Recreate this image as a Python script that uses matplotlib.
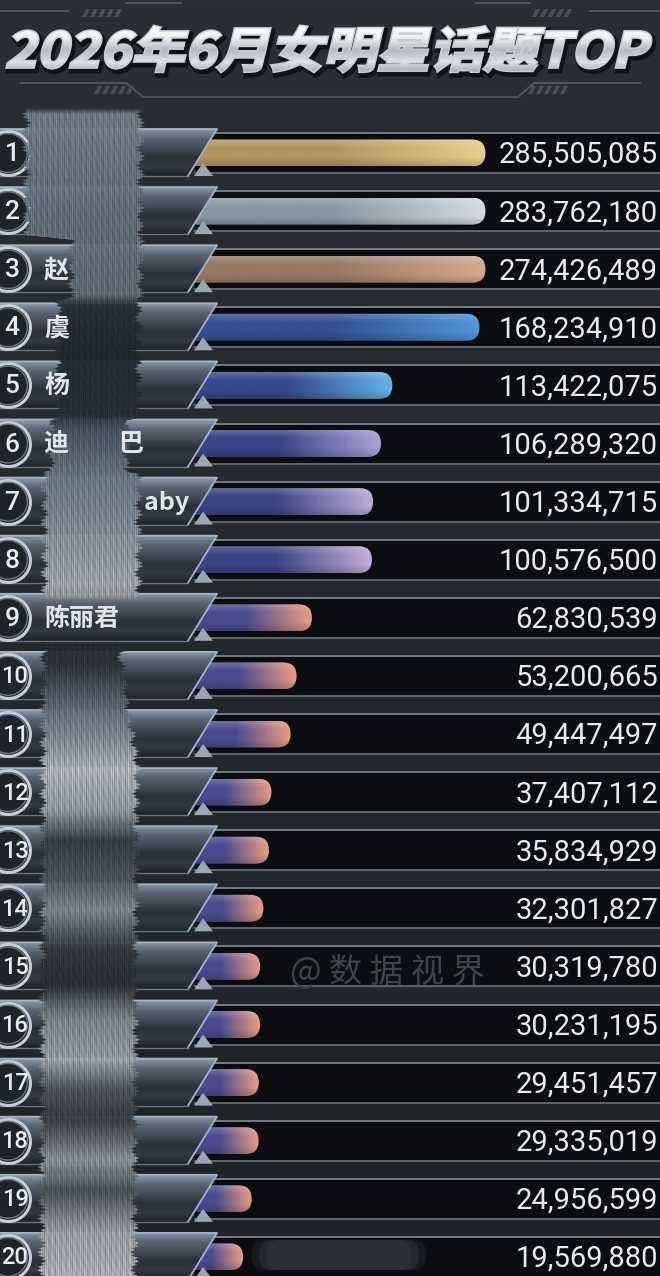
import numpy as np
import matplotlib
matplotlib.use('Agg')
import matplotlib.pyplot as plt
from matplotlib.patches import Polygon, FancyBboxPatch, PathPatch, Rectangle
from matplotlib.textpath import TextPath
from matplotlib.font_manager import FontProperties
from matplotlib.transforms import Affine2D, blended_transform_factory
from matplotlib.colors import LinearSegmentedColormap, to_rgb

plt.rcParams['font.family'] = ['Noto Sans CJK SC', 'DejaVu Sans']

# ---- 数据 ----
title = '2026年6月女明星话题TOP'
watermark = '@ 数 据 视 界'
ranks = list(range(1, 21))
# 图中可见的名字片段 (其余被涂抹)
names = ['', '', '赵', '虞', '杨', '迪\u3000\u3000巴', '\u3000\u3000\u3000\u3000aby', '',
         '陈丽君', '', '', '', '', '', '', '', '', '', '', '']
values = [285505085, 283762180, 274426489, 168234910, 113422075, 106289320,
          101334715, 100576500, 62830539, 53200665, 49447497, 37407112,
          35834929, 32301827, 30319780, 30231195, 29451457, 29335019,
          24956599, 19569880]

# 条形渐变色 (左, 右)
bar_colors = [('#b39660', '#e9cd8e'), ('#8797a3', '#d3dbdf'), ('#987862', '#d6aa8c'),
              ('#33508f', '#4f97da'), ('#34488a', '#62b4e8'), ('#3a4686', '#aaa2d6'),
              ('#3a4482', '#bcaedd'), ('#3a4482', '#c6aed6')] + [('#4a4b8e', '#eb9c82')] * 12

W, H = 660, 1276
X0, PPM = 212, 1.59      # 0 值所在像素, 每百万对应像素
Y1, ROWPX = 153, 58.1    # 第一行中心, 行距
CAP = 172                # 最长显示长度 (百万)

fig = plt.figure(figsize=(W / 100, H / 100), dpi=100, facecolor='#272b31')
ax = fig.add_axes([0, 0, 1, 1])
ax.set_xlim(-X0 / PPM, (W - X0) / PPM)
ax.set_ylim(1 + (H - Y1) / ROWPX, 1 - Y1 / ROWPX)
ax.set_autoscale_on(False)
ax.axis('off')

# 像素坐标 (左上为原点) 和 混合坐标 (x 像素, y 行号)
px = Affine2D().scale(1 / W, -1 / H).translate(0, 1) + fig.transFigure
row_t = blended_transform_factory(px, ax.transData)


def dy(p):
    return p / ROWPX


def grad(extent, colors, clip, trans, horizontal=True, z=2):
    cmap = LinearSegmentedColormap.from_list('g', colors)
    arr = np.linspace(0, 1, 256)
    arr = arr[None, :] if horizontal else arr[:, None]
    im = ax.imshow(arr, cmap=cmap, extent=extent, aspect='auto', transform=trans,
                   interpolation='bilinear', zorder=z)
    im.set_clip_path(clip)
    return im


# 背景
bgp = Rectangle((0, 0), W, H, transform=px)
grad((0, W, H, 0), ['#2b2f35', '#25292f', '#202328'], bgp, px, horizontal=False, z=0)

# ---- 标题装饰线 ----
line_c = '#4f555e'
ax.plot([0, 68], [11, 11], color=line_c, lw=1.5, transform=px, zorder=1)
ax.plot([126, 181], [3, 3], color=line_c, lw=1.5, transform=px, zorder=1)
ax.plot([476, 530], [3, 3], color=line_c, lw=1.5, transform=px, zorder=1)
ax.plot([590, 660], [11, 11], color=line_c, lw=1.5, transform=px, zorder=1)
ax.plot([21, 126, 143, 518, 534, 640], [83, 83, 97, 97, 83, 83], color=line_c, lw=1.5,
        transform=px, zorder=1)
for xs, ys in [(82, 9), (532, 9), (94, 86), (528, 86)]:
    for k in range(5):
        x = xs + k * 8
        ax.add_patch(Polygon([(x + 4, ys), (x + 8, ys), (x + 4, ys + 8), (x, ys + 8)],
                             transform=px, fc='#4a5059', ec='none', zorder=1))

# ---- 标题 ----
fp = FontProperties(family='Noto Sans CJK SC', weight='heavy')
tp = TextPath((0, 0), title, prop=fp, size=1)
tp = Affine2D().skew_deg(12, 0).transform_path(tp)
bb = tp.get_extents()
fit = Affine2D().translate(-bb.x0, -bb.y0).scale(644 / bb.width, -46 / bb.height).translate(7, 72)
tpath = fit.transform_path(tp)
ax.add_patch(PathPatch(Affine2D().translate(2, 3).transform_path(tpath), transform=px,
                       fc='#101215', ec='#101215', lw=4.5, zorder=3))
ax.add_patch(PathPatch(tpath, transform=px, fc='#c9cdd3', ec='#c9cdd3', lw=2.2, zorder=3.4))
grad((0, W, 74, 26), ['#ffffff', '#eef0f2', '#b4bac2', '#dfe2e6', '#9aa0a8'],
     PathPatch(tpath, transform=px), px, horizontal=False, z=3.5)

# ---- 每一行 ----
for i, (r, v) in enumerate(zip(ranks, values)):
    top, bot = r - dy(24), r + dy(23)
    # 轨道
    ax.add_patch(Rectangle((195, r - dy(20)), W - 195, dy(40), transform=row_t,
                           fc='#0b0d11', ec='none', zorder=2))
    ax.plot([214, W], [r - dy(20)] * 2, color='#737b86', lw=1.4, transform=row_t, zorder=2.2)
    ax.plot([195, W], [r + dy(20)] * 2, color='#5f6670', lw=1.4, transform=row_t, zorder=2.2)

    # 条形
    dv = min(v / 1e6, CAP)
    rad = 13.5 / PPM
    bar = FancyBboxPatch((-20, r - dy(13.5)), dv + 20, dy(27),
                         boxstyle=f'round,pad=0,rounding_size={rad}',
                         mutation_aspect=PPM / ROWPX, transform=ax.transData)
    c0, c1 = bar_colors[i]
    grad((-20, dv, r + dy(13.5), r - dy(13.5)), [c0, c0, c1], bar, ax.transData, z=3)
    grad((-20, dv, r + dy(13.5), r - dy(13.5)),
         [(1, 1, 1, 0.22), (1, 1, 1, 0.0), (0, 0, 0, 0.0), (0, 0, 0, 0.18)],
         bar, ax.transData, horizontal=False, z=3.1)

    # 名字底板
    plate = Polygon([(-5, top), (217, top), (188, bot), (-5, bot)], transform=row_t)
    grad((-5, 217, bot, top), ['#8a99ab', '#5a6573', '#434c58', '#2a3038', '#343a43', '#1e2228'],
         plate, row_t, horizontal=False, z=4)
    ax.plot([-5, 217, 188], [top, top, bot], color='#a3b3c5', lw=1.3, transform=row_t, zorder=4.2)
    ax.plot([-5, 188], [bot, bot], color='#6b7480', lw=1.0, transform=row_t, zorder=4.2)
    ax.add_patch(Polygon([(194, bot), (203, r + dy(10)), (213, bot)], transform=row_t,
                         fc='#9aa6b3', ec='none', zorder=4.1))

    # 名次圆
    ax.scatter([8], [r], s=1000, transform=row_t, fc='#1f242b', ec='#c6cdd5', lw=2.2, zorder=6)
    ax.scatter([8], [r], s=780, transform=row_t, fc='none', ec='#6d7580', lw=1.0, zorder=6.1)
    ax.text(12 if r < 10 else 15, r + dy(1), str(r), transform=row_t, ha='center', va='center',
            fontsize=19 if r < 10 else 17, color='#e8ecf0', weight='medium',
            family=['Roboto', 'DejaVu Sans'], zorder=7)

    # 名字
    if names[i]:
        ax.text(44, r + dy(1), names[i], transform=row_t, ha='left', va='center', fontsize=18,
                color='#e2e6ec', weight='bold', zorder=7)

    # 数值
    ax.text(658, r + dy(2), f'{v:,}', transform=row_t, ha='right', va='center', fontsize=21,
            color='#e6ecf2', family=['Roboto', 'DejaVu Sans'], zorder=7)

# 水印
ax.text(290, 972, watermark, transform=px, ha='left', va='center', fontsize=24,
        color='#3f444c', zorder=2.5)

# 第20行中间的模糊块
for w_, a_ in [(175, 0.35), (160, 0.6), (145, 0.9)]:
    ax.add_patch(FancyBboxPatch((339 - w_ / 2, 1240), w_, 30, boxstyle='round,pad=0,rounding_size=14',
                                transform=px, fc='#2e3137', ec='none', alpha=a_, zorder=2.4))

# ---- 涂抹遮挡 ----
sx = np.arange(20, 150) + 0.5
sy = np.arange(104, 1276) + 0.5
XX, YY = np.meshgrid(sx, sy)
key_y = [104, 200, 295, 305, 360, 415, 430, 470, 520, 585, 600, 645, 665, 700, 730,
         770, 810, 840, 880, 910, 950, 985, 1020, 1060, 1090, 1120, 1160, 1190, 1230, 1276]
key_c = ['#7d8a97', '#6e7c8a', '#6a7784', '#27313b', '#212c36', '#2a3540', '#4c5a68',
         '#6f7e8d', '#8a98a6', '#b4b8bd', '#9aa0a6', '#2a2e36', '#30353e', '#5e6a78',
         '#8391a0', '#c0c5cb', '#a5acb4', '#3a4048', '#565e68', '#8c96a0', '#353a42',
         '#2f343c', '#8c949c', '#a8b0b8', '#555b63', '#3c4048', '#9ca2aa', '#50565e',
         '#a8adb3', '#c2c6cb']
rgb = np.array([to_rgb(c) for c in key_c])
col = np.stack([np.interp(YY, key_y, rgb[:, k]) for k in range(3)], axis=-1)
# 竖向刷痕
tex = (0.5 * np.sin(XX * 2.9 + 1.5 * np.sin(YY * 0.021))
       + 0.3 * np.sin(XX * 1.13 + YY * 0.009)
       + 0.2 * np.sin(XX * 5.3 + YY * 0.4))
col = np.clip(col * (0.9 + 0.2 * tex[..., None]), 0, 1)
left = np.interp(YY, [104, 235, 240, 298, 302, 418, 422, 470, 474, 592, 640, 1276],
                 [25, 25, 70, 70, 57, 57, 50, 50, 43, 43, 42, 40])
right = np.interp(YY, [104, 298, 302, 418, 422, 470, 474, 592, 640, 700, 760, 1276],
                  [142, 142, 140, 140, 128, 128, 140, 140, 120, 128, 138, 136])
rag = 2.5 * np.sin(YY * 0.37) + 1.5 * np.sin(YY * 1.7)
alpha = np.clip((XX - left - rag) / 3, 0, 1) * np.clip((right + rag - XX) / 3, 0, 1)
alpha *= np.clip((YY - 108) / 6, 0, 1)
alpha *= 1 - np.clip((YY - 596) / 4, 0, 1) * np.clip((646 - YY) / 4, 0, 1)
alpha *= 0.95
ax.imshow(np.dstack([col, alpha]), extent=(20, 150, 1276, 104), transform=px,
          aspect='auto', interpolation='bilinear', zorder=6.5)

fig.savefig('out.png', dpi=100, facecolor=fig.get_facecolor())
